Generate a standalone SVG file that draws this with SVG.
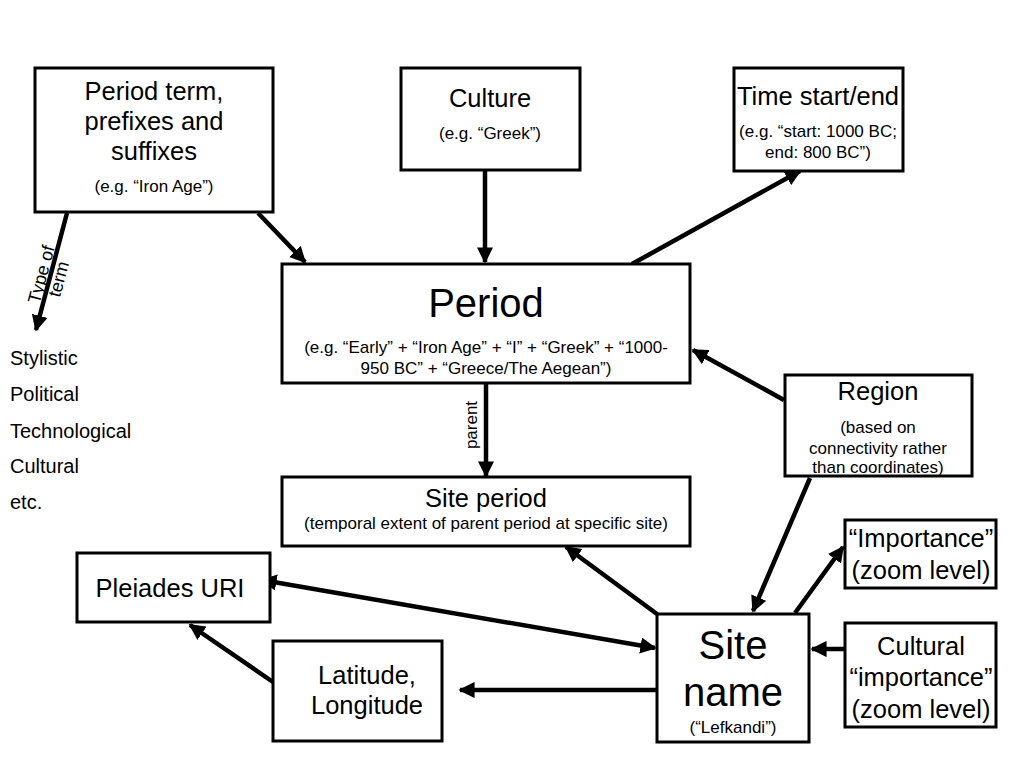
<svg xmlns="http://www.w3.org/2000/svg" width="1024" height="768" viewBox="0 0 1024 768">
<style>
.box{fill:#fff;stroke:#000;stroke-width:3}
text{font-family:"Liberation Sans",Arial,sans-serif;fill:#000;text-anchor:middle}
.t{font-size:25.5px}
.s{font-size:17px}
.b{font-size:40px}
.l{font-size:20px;text-anchor:start}
.c line{stroke:#000;stroke-width:4.5}
</style>
<defs>
<marker id="ah" viewBox="0 0 10 10" refX="9" refY="5" markerWidth="3.6" markerHeight="3.6" orient="auto-start-reverse" markerUnits="strokeWidth">
<path d="M0,0 L10,5 L0,10 z" fill="#000"/>
</marker>
</defs>
<rect width="1024" height="768" fill="#fff"/>
<g class="c">
<line x1="258" y1="213" x2="305" y2="262" marker-end="url(#ah)"/>
<line x1="485" y1="170" x2="485" y2="262" marker-end="url(#ah)"/>
<line x1="632" y1="264" x2="800" y2="171" marker-end="url(#ah)"/>
<line x1="67" y1="213" x2="36" y2="330" marker-end="url(#ah)"/>
<line x1="486" y1="383" x2="486" y2="476" marker-end="url(#ah)"/>
<line x1="784" y1="400" x2="693" y2="350" marker-end="url(#ah)"/>
<line x1="810" y1="478" x2="753" y2="611" marker-end="url(#ah)"/>
<line x1="795" y1="613" x2="843" y2="547" marker-end="url(#ah)"/>
<line x1="845" y1="649" x2="812" y2="649" marker-end="url(#ah)"/>
<line x1="657" y1="614" x2="566" y2="547" marker-end="url(#ah)"/>
<line x1="262" y1="580" x2="655" y2="648" marker-start="url(#ah)" marker-end="url(#ah)"/>
<line x1="657" y1="690" x2="460" y2="690" marker-end="url(#ah)"/>
<line x1="273" y1="682" x2="190" y2="625" marker-end="url(#ah)"/>
</g>
<text transform="translate(51,277) rotate(-75)" style="font-size:18px"><tspan x="0" y="-4">Type of</tspan><tspan x="0" y="14">term</tspan></text>
<text x="477" y="425" transform="rotate(-90 477 425)" style="font-size:17px">parent</text>
<g id="list">
<text class="l" x="10" y="365">Stylistic</text>
<text class="l" x="10" y="401">Political</text>
<text class="l" x="10" y="438">Technological</text>
<text class="l" x="10" y="473">Cultural</text>
<text class="l" x="10" y="509">etc.</text>
</g>
<g id="periodterm">
<rect class="box" x="35" y="68" width="238" height="144"/>
<text class="t" x="154" y="100">Period term,</text>
<text class="t" x="154" y="130">prefixes and</text>
<text class="t" x="154" y="160">suffixes</text>
<text class="s" x="154" y="192">(e.g. “Iron Age”)</text>
</g>
<g id="culture">
<rect class="box" x="401" y="68" width="179" height="102"/>
<text class="t" x="490" y="107">Culture</text>
<text class="s" x="490" y="139">(e.g. “Greek”)</text>
</g>
<g id="time">
<rect class="box" x="734" y="68" width="169" height="103"/>
<text class="t" x="818" y="105">Time start/end</text>
<text class="s" x="818" y="137">(e.g. “start: 1000 BC;</text>
<text class="s" x="818" y="158">end: 800 BC”)</text>
</g>
<g id="period">
<rect class="box" x="282" y="264" width="408" height="119"/>
<text class="b" x="486" y="317">Period</text>
<text class="s" x="486" y="353">(e.g. “Early” + “Iron Age” + “I” + “Greek” + “1000-</text>
<text class="s" x="486" y="374">950 BC” + “Greece/The Aegean”)</text>
</g>
<g id="region">
<rect class="box" x="785" y="375" width="187" height="101"/>
<text class="t" x="878" y="400">Region</text>
<text class="s" x="878" y="433">(based on</text>
<text class="s" x="878" y="454">connectivity rather</text>
<text class="s" x="878" y="473">than coordinates)</text>
</g>
<g id="siteperiod">
<rect class="box" x="282" y="477" width="408" height="69"/>
<text class="t" x="486" y="507">Site period</text>
<text class="s" x="486" y="529">(temporal extent of parent period at specific site)</text>
</g>
<g id="pleiades">
<rect class="box" x="77" y="553" width="193" height="69"/>
<text class="t" x="170" y="597">Pleiades URI</text>
</g>
<g id="importance">
<rect class="box" x="845" y="520" width="151" height="68"/>
<text class="t" x="921" y="547">“Importance”</text>
<text class="t" x="921" y="579">(zoom level)</text>
</g>
<g id="sitename">
<rect class="box" x="657" y="614" width="152" height="128"/>
<text class="b" x="733" y="659">Site</text>
<text class="b" x="733" y="706">name</text>
<text class="s" x="733" y="733">(“Lefkandi”)</text>
</g>
<g id="cultural">
<rect class="box" x="845" y="623" width="151" height="104"/>
<text class="t" x="921" y="655">Cultural</text>
<text class="t" x="921" y="686">“importance”</text>
<text class="t" x="921" y="718">(zoom level)</text>
</g>
<g id="latlon">
<rect class="box" x="273" y="641" width="169" height="100"/>
<text class="t" x="367" y="684">Latitude,</text>
<text class="t" x="367" y="714">Longitude</text>
</g>
</svg>
